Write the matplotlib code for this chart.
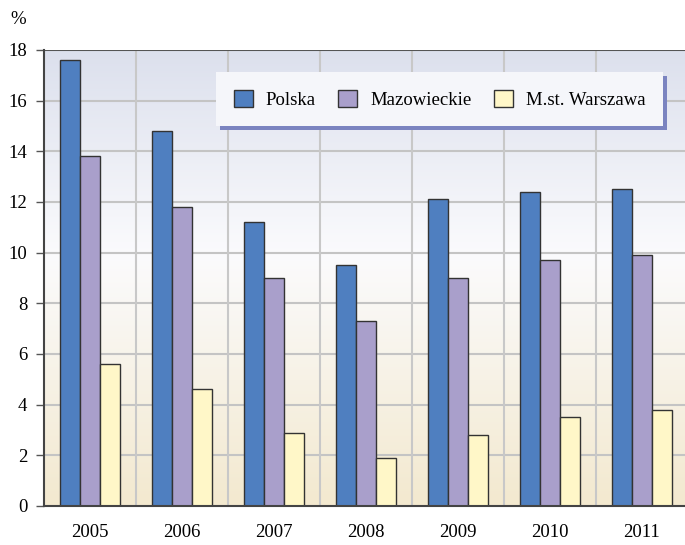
import numpy as np
import matplotlib
matplotlib.use("Agg")
import matplotlib.pyplot as plt
from matplotlib.colors import LinearSegmentedColormap
from matplotlib.patches import Rectangle

# Chart data
years = ["2005", "2006", "2007", "2008", "2009", "2010", "2011"]
series_names = ["Polska", "Mazowieckie", "M.st. Warszawa"]
polska = [17.6, 14.8, 11.2, 9.5, 12.1, 12.4, 12.5]
mazowieckie = [13.8, 11.8, 9.0, 7.3, 9.0, 9.7, 9.9]
warszawa = [5.6, 4.6, 2.9, 1.9, 2.8, 3.5, 3.8]
colors = ["#4f7fc0", "#a99fcb", "#fff7c8"]

plt.rcParams['font.family'] = ['Liberation Serif', 'DejaVu Serif']
plt.rcParams['font.size'] = 13.5

fig = plt.figure(figsize=(6.85, 5.45), dpi=100)
ax = fig.add_axes([44 / 685, 1 - 506 / 545, 644 / 685, 456 / 545])

# gradient background
grad = LinearSegmentedColormap.from_list(
    "bg", [(0.0, "#f3e9cf"), (0.55, "#fbfbfd"), (1.0, "#dce0ed")])
ax.imshow(np.linspace(0, 1, 256).reshape(-1, 1), aspect="auto", cmap=grad,
          extent=(-0.5, 6.5, 0, 18), origin="lower", zorder=0)

x = np.arange(len(years))
w = 0.22
for i, (vals, name) in enumerate(zip([polska, mazowieckie, warszawa], series_names)):
    ax.bar(x + (i - 1) * w, vals, w, color=colors[i], edgecolor="#333333",
           linewidth=1.0, label=name, zorder=3)

ax.set_xlim(-0.5, 6.5)
ax.set_ylim(0, 18)
ax.set_yticks(range(0, 19, 2))
ax.set_xticks(x)
ax.set_xticklabels(years)
ax.tick_params(axis="x", length=0, pad=13)
ax.tick_params(axis="y", length=6, width=1, color="#555555", pad=6, direction="out")

for yv in range(2, 18, 2):
    ax.axhline(yv, color="#c4c4c4", linewidth=1.5, zorder=1)
for xv in np.arange(0.5, 6.5, 1):
    ax.axvline(xv, color="#c8c8c8", linewidth=1.5, zorder=1)

for s in ["top", "right"]:
    ax.spines[s].set_visible(False)
for s in ["left", "bottom"]:
    ax.spines[s].set_color("#444444")
    ax.spines[s].set_linewidth(1.5)
    ax.spines[s].set_zorder(4)

ax.axhline(18, color="#555555", linewidth=1.5, zorder=4)

fig.text(10 / 685, 1 - 20 / 545, "%", ha="left", va="center", fontsize=13.5)

leg = ax.legend(ncol=3, loc="upper left", bbox_to_anchor=(216 / 685, 1 - 72 / 545),
                bbox_transform=fig.transFigure, frameon=True, fancybox=False,
                handlelength=1.0, handleheight=1.0, handletextpad=0.7,
                columnspacing=1.2, borderpad=0.95, borderaxespad=0)
leg.get_frame().set_facecolor("#f5f6fa")
leg.get_frame().set_edgecolor("none")
leg.get_frame().set_alpha(1)
leg.set_zorder(10)

fig.canvas.draw()
bb = leg.get_window_extent().transformed(fig.transFigure.inverted())
shadow = Rectangle((bb.x0 + 4 / 685, bb.y0 - 4 / 545), bb.width, bb.height,
                   transform=fig.transFigure, facecolor="#7b84c0",
                   edgecolor="none", zorder=9)
ax.add_artist(shadow)
shadow.set_clip_on(False)

fig.savefig("out.png", dpi=100)
